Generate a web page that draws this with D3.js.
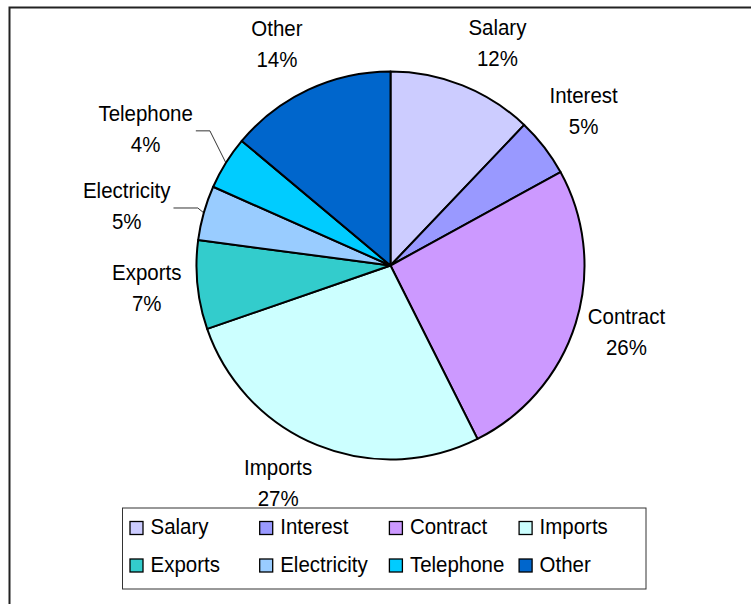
<!DOCTYPE html>
<html>
<head>
<meta charset="utf-8">
<script src="https://cdn.jsdelivr.net/npm/d3@7"></script>
<style>
  body { margin: 0; background: #fff; }
  svg text { font-family: "Liberation Sans", Arial, sans-serif; font-size: 22.5px; fill: #000; }
</style>
</head>
<body>
<svg id="chart"></svg>
<script>
// data (share of total, percent)
const categories = ["Salary", "Interest", "Contract", "Imports", "Exports", "Electricity", "Telephone", "Other"];
const values = [12.1, 4.9, 25.6, 27.1, 7.4, 4.55, 4.45, 13.9];
const colors = ["#CCCCFF", "#9999FF", "#CC99FF", "#CCFFFF", "#33CCCC", "#99CCFF", "#00CCFF", "#0066CC"];

const WIDTH = 751;
const HEIGHT = 604;
const CX = 390.5, CY = 265.5, R = 194;
const LABEL_R = 245;
const SQUEEZE = 0.91; // the original font is a bit narrower than Arial

// labels that were dragged away from the default spot
const labelNudge = {
  Salary: [16, 5],
  Interest: [-1, -5],
  Contract: [2, -6],
  Imports: [-20, -9],
  Exports: [0, -2],
  Other: [-10, 1],
  Telephone: [-37, -7],
  Electricity: [-28, 7]
};
const withLeader = ["Telephone", "Electricity"];

const svg = d3.select("#chart")
  .attr("width", WIDTH)
  .attr("height", HEIGHT);

function addText(parent, x, y, str, anchor) {
  return parent.append("text")
    .attr("transform", `translate(${x},${y}) scale(${SQUEEZE},1)`)
    .attr("text-anchor", anchor || "start")
    .text(str);
}

// outer chart frame (only top and left edges fall inside the picture)
svg.append("rect")
  .attr("x", 9.5).attr("y", 7.5)
  .attr("width", 900).attr("height", 800)
  .attr("fill", "none")
  .attr("stroke", "#222")
  .attr("stroke-width", 2);

const total = d3.sum(values);
const data = categories.map((c, i) => ({ name: c, value: values[i], color: colors[i] }));

const pie = d3.pie().value(d => d.value).sort(null);
const arc = d3.arc().innerRadius(0).outerRadius(R);
const arcs = pie(data);

const g = svg.append("g").attr("transform", `translate(${CX},${CY})`);

g.selectAll("path")
  .data(arcs)
  .enter()
  .append("path")
    .attr("d", arc)
    .attr("fill", d => d.data.color)
    .attr("stroke", "#000")
    .attr("stroke-width", 2)
    .attr("stroke-linejoin", "round");

// data labels
const labels = svg.append("g");
arcs.forEach(d => {
  const a = (d.startAngle + d.endAngle) / 2;
  const nudge = labelNudge[d.data.name] || [0, 0];
  const lx = CX + LABEL_R * Math.sin(a) + nudge[0];
  const ly = CY - LABEL_R * Math.cos(a) + nudge[1];

  const t1 = addText(labels, lx, ly - 8, d.data.name, "middle");
  addText(labels, lx, ly + 23, Math.round(d.data.value / total * 100) + "%", "middle");

  if (withLeader.includes(d.data.name)) {
    const w = t1.node().getComputedTextLength() * SQUEEZE;
    const ex = CX + R * Math.sin(a), ey = CY - R * Math.cos(a);
    const hy = ly + 2;
    const bx = lx + w / 2 + 3;
    const kx = ex - Math.max(Math.abs(ey - hy) * 0.5, 6);
    labels.append("path")
      .attr("d", `M${bx},${hy}L${kx},${hy}L${ex},${ey}`)
      .attr("fill", "none")
      .attr("stroke", "#000")
      .attr("stroke-width", 0.8);
  }
});

// legend
const LEG = { X: 122, Y: 507.5, W: 523.5, H: 81, COL: 129.7, ROW: 37.5 };
const legend = svg.append("g");
legend.append("rect")
  .attr("x", LEG.X + 0.5).attr("y", LEG.Y + 0.5)
  .attr("width", LEG.W).attr("height", LEG.H)
  .attr("fill", "#fff")
  .attr("stroke", "#333")
  .attr("stroke-width", 1);

const items = legend.selectAll("g.item")
  .data(data)
  .enter()
  .append("g")
    .attr("class", "item")
    .attr("transform", (d, i) => `translate(${130 + (i % 4) * LEG.COL},${521.5 + Math.floor(i / 4) * LEG.ROW})`);

items.append("rect")
  .attr("width", 13).attr("height", 13)
  .attr("fill", d => d.color)
  .attr("stroke", "#000")
  .attr("stroke-width", 1.3);

items.each(function(d) {
  addText(d3.select(this), 20.5, 12.5, d.name);
});
</script>
</body>
</html>
